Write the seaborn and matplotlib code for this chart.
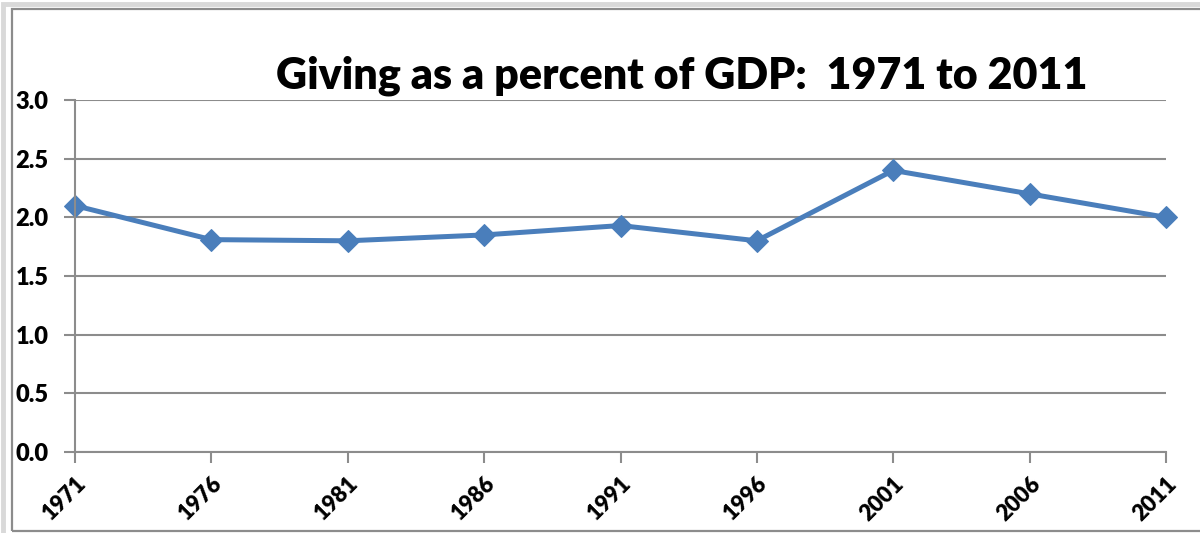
import matplotlib
matplotlib.use("Agg")
import matplotlib.pyplot as plt
import matplotlib.patches as mpatches
import seaborn as sns
import pandas as pd

years = ["1971", "1976", "1981", "1986", "1991", "1996", "2001", "2006", "2011"]
giving_pct = [2.10, 1.81, 1.80, 1.85, 1.93, 1.80, 2.40, 2.20, 2.00]
y_ticks = [0.0, 0.5, 1.0, 1.5, 2.0, 2.5, 3.0]
title = "Giving as a percent of GDP:  1971 to 2011"

df = pd.DataFrame({"year": years, "pct": giving_pct})

sns.set_style("white")
plt.rcParams["font.family"] = ["Lato", "DejaVu Sans"]
plt.rcParams["text.color"] = "black"
plt.rcParams["xtick.color"] = "black"
plt.rcParams["ytick.color"] = "black"

fig = plt.figure(figsize=(12, 5.33), dpi=100)
ax = fig.add_axes([75 / 1200, 1 - 452 / 533, (1166 - 75) / 1200, (452 - 100) / 533])

# outer frame
fig.patches.append(mpatches.Rectangle((3 / 1200, -0.1), 1.2, 1 - 3.5 / 533 + 0.1,
                                      transform=fig.transFigure, fill=False,
                                      edgecolor="#d9d9d9", linewidth=3.5, zorder=0))
fig.patches.append(mpatches.Rectangle((11.5 / 1200, 2 / 533), 1.2, 1 - 8.5 / 533 - 2 / 533,
                                      transform=fig.transFigure, fill=False,
                                      edgecolor="#8c8c8c", linewidth=1.6, zorder=1))

sns.lineplot(data=df, x="year", y="pct", ax=ax, color="#4a7ebb", linewidth=3.6,
             marker="D", markersize=11, markeredgecolor="#4a7ebb", sort=False)

ax.set_ylim(0, 3)
ax.set_xlim(0, len(years) - 1)
ax.set_yticks(y_ticks)
ax.set_yticklabels([f"{v:.1f}" for v in y_ticks], fontsize=17, fontweight="heavy",
                   color="black")
ax.set_xticks(range(len(years)))
ax.set_xticklabels(years, fontsize=16, fontweight="heavy", rotation=45, color="black",
                   ha="right", va="top", rotation_mode="anchor")
ax.tick_params(axis="x", direction="out", length=8, width=1.5, color="#8c8c8c", pad=7, bottom=True)
ax.tick_params(axis="y", direction="out", length=8, width=1.5, color="#8c8c8c", pad=11, left=True)
ax.set_xlabel("")
ax.set_ylabel("")

ax.grid(axis="y", color="#8c8c8c", linewidth=1.5)
ax.grid(axis="x", visible=False)
for s in ["top", "right"]:
    ax.spines[s].set_visible(False)
for s in ["left", "bottom"]:
    ax.spines[s].set_color("#8c8c8c")
    ax.spines[s].set_linewidth(1.5)
ax.set_axisbelow(True)
for line in ax.lines:
    line.set_clip_on(False)

fig.text(682 / 1200, 1 - 88 / 533, title, ha="center", va="baseline",
         fontsize=31, fontweight="heavy", color="black")

fig.savefig("out.png", dpi=100)
